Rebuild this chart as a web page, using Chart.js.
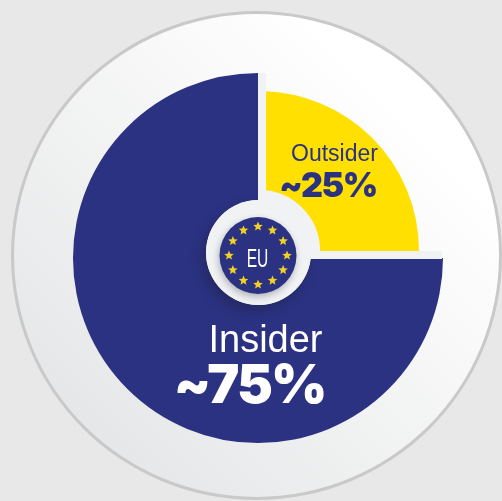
<!DOCTYPE html>
<html>
<head>
<meta charset="utf-8">
<script src="https://cdn.jsdelivr.net/npm/chart.js@4"></script>
<style>
html, body { margin: 0; width: 502px; height: 501px; overflow: hidden; background: #e8e8e8; }
#plate { position: absolute; left: 11px; top: 11px; width: 491px; height: 489px; box-sizing: border-box; border-radius: 50%;
  border: 3px solid #c9c9c9; background: linear-gradient(45deg, #e6e7e8 15%, #ffffff 80%); }
canvas { position: absolute; }
#insider { left: 68px; top: 68px; }
#outsider { left: 94px; top: 86px; }
</style>
</head>
<body>
<div id="plate"></div>
<canvas id="insider" width="380" height="380"></canvas>
<canvas id="outsider" width="330" height="330"></canvas>
<script>
const groups = ['Outsider', 'Insider']
const shares = [25, 75]
const shareLabels = ['~25%', '~75%']
const centerLabel = 'EU'
const navy = '#2b3282'
const yellow = '#ffe000'
const paleGrey = '#f1f2f3'

// pale strips behind the gap between the arcs, and the white label on the navy arc
const insiderExtras = {
    id: 'insiderExtras',
    beforeDatasetsDraw(chart) {
        const c = chart.ctx
        c.save()
        c.fillStyle = paleGrey
        c.beginPath()
        c.arc(191, 183, 64, 0, Math.PI * 2)
        c.fill()
        c.restore()
    },
    afterDatasetsDraw(chart) {
        const c = chart.ctx
        c.save()
        c.fillStyle = paleGrey
        c.fillRect(190, 183, 184, 8)
        c.fillRect(190, 5, 8, 186)
        c.restore()
    },
    afterDraw(chart) {
        const c = chart.ctx
        c.save()
        c.textAlign = 'center'
        c.textBaseline = 'alphabetic'
        c.fillStyle = '#ffffff'
        c.font = '38px "Liberation Sans"'
        c.fillText(groups[1], 197.5, 284)
        c.font = '900 54px Inter'
        c.letterSpacing = '-2px'
        c.fillText(shareLabels[1], 181.5, 335)
        c.restore()
    }
}

const star = (c, x, y, r) => {
    c.beginPath()
    for (let i = 0; i < 10; i++) {
        const a = -Math.PI / 2 + i * Math.PI / 5
        const d = i % 2 ? r * 0.45 : r
        c.lineTo(x + d * Math.cos(a), y + d * Math.sin(a))
    }
    c.closePath()
    c.fill()
}

// clips the left edge of the yellow arc, then puts the badge and labels on top
const outsiderExtras = {
    id: 'outsiderExtras',
    beforeDatasetsDraw(chart) {
        const c = chart.ctx
        c.save()
        c.beginPath()
        c.rect(172, 0, 158, 330)
        c.clip()
    },
    afterDatasetsDraw(chart) {
        const c = chart.ctx
        c.restore()

        // shadow only falls on the navy side, the quadrant under the yellow arc stays clean
        c.save()
        c.beginPath()
        c.rect(0, 0, 330, 330)
        c.rect(164, 0, 166, 173)
        c.clip('evenodd')
        c.shadowColor = 'rgba(30,30,50,0.4)'
        c.shadowBlur = 12
        c.shadowOffsetX = -4
        c.shadowOffsetY = 6
        c.fillStyle = paleGrey
        c.beginPath()
        c.arc(164.5, 166.5, 52.5, 0, Math.PI * 2)
        c.fill()
        c.restore()

        c.save()
        c.fillStyle = paleGrey
        c.beginPath()
        c.arc(164.5, 166.5, 52.5, 0, Math.PI * 2)
        c.fill()

        c.shadowColor = 'rgba(30,30,50,0.3)'
        c.shadowBlur = 7
        c.shadowOffsetX = -1
        c.shadowOffsetY = 3
        c.fillStyle = navy
        c.beginPath()
        c.arc(164, 169.5, 38.5, 0, Math.PI * 2)
        c.fill()
        c.shadowColor = 'transparent'

        c.fillStyle = '#f2d024'
        for (let i = 0; i < 12; i++) {
            const a = i * Math.PI / 6
            star(c, 164 + 29 * Math.cos(a), 169.5 + 29 * Math.sin(a), 5)
        }

        c.textBaseline = 'alphabetic'
        c.textAlign = 'center'
        c.fillStyle = '#ffffff'
        c.save()
        c.translate(163.5, 181)
        c.scale(0.6, 1)
        c.font = '26px "Liberation Sans"'
        c.fillText(centerLabel, 0, 0)
        c.restore()

        c.fillStyle = navy
        c.font = '23px "Liberation Sans"'
        c.fillText(groups[0], 240.5, 75)
        c.font = '900 34px Inter'
        c.letterSpacing = '-1.5px'
        c.fillText(shareLabels[0], 234, 111)
        c.restore()
    }
}

const makeRing = (id, colors, radius, cutout, plugin) => new Chart(document.getElementById(id), {
    type: 'doughnut',
    data: {
        labels: groups,
        datasets: [{ data: shares, backgroundColor: colors, borderWidth: 0, radius: radius, cutout: cutout }]
    },
    options: {
        responsive: false,
        animation: false,
        plugins: { legend: { display: false }, tooltip: { enabled: false } }
    },
    plugins: [plugin]
})

makeRing('insider', ['rgba(0,0,0,0)', navy], 185, 40, insiderExtras)
makeRing('outsider', [yellow, 'rgba(0,0,0,0)'], 160, 63, outsiderExtras)
</script>
</body>
</html>
